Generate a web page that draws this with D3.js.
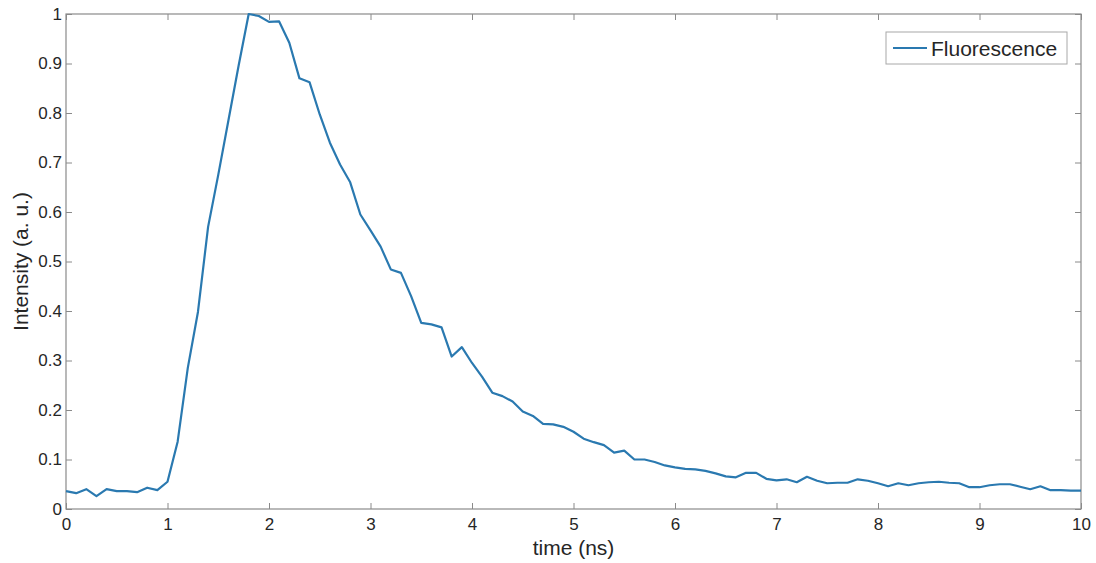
<!DOCTYPE html>
<html>
<head>
<meta charset="utf-8">
<script src="https://cdn.jsdelivr.net/npm/d3@7"></script>
<style>
  body { margin: 0; background: #fff; }
  text { font-family: "Liberation Sans", Arial, sans-serif; }
</style>
</head>
<body>
<div id="chart"></div>
<script>
// time axis in ns, sampled every 0.1 ns
const times = d3.range(0, 101).map(i => i / 10);

// normalised fluorescence intensity
const intensity = [
  0.036, 0.032, 0.040, 0.026, 0.040, 0.036, 0.036, 0.034, 0.043, 0.038,
  0.055, 0.136, 0.285, 0.398, 0.570, 0.675, 0.785, 0.895, 1.000, 0.996,
  0.984, 0.985, 0.942, 0.870, 0.862, 0.797, 0.740, 0.696, 0.660, 0.595,
  0.563, 0.530, 0.484, 0.477, 0.430, 0.376, 0.373, 0.367, 0.308, 0.327,
  0.295, 0.267, 0.235, 0.228, 0.217, 0.197, 0.188, 0.172, 0.171, 0.166,
  0.156, 0.142, 0.135, 0.129, 0.114, 0.118, 0.100, 0.100, 0.095, 0.088,
  0.084, 0.081, 0.080, 0.077, 0.072, 0.066, 0.064, 0.073, 0.073, 0.061,
  0.058, 0.060, 0.054, 0.065, 0.057, 0.052, 0.053, 0.053, 0.060, 0.057,
  0.052, 0.046, 0.052, 0.048, 0.052, 0.054, 0.055, 0.053, 0.052, 0.044,
  0.044, 0.048, 0.050, 0.050, 0.045, 0.040, 0.046, 0.038, 0.038, 0.037,
  0.037
];

const xTicks = d3.range(0, 11);
const yTicks = d3.range(0, 11).map(i => i / 10);
const seriesName = "Fluorescence";

const width = 1096, height = 563;
const margin = { top: 14, right: 15, bottom: 54, left: 66 };
const innerW = width - margin.left - margin.right;
const innerH = height - margin.top - margin.bottom;

const svg = d3.select("#chart").append("svg")
  .attr("width", width)
  .attr("height", height);

const g = svg.append("g")
  .attr("transform", `translate(${margin.left},${margin.top})`);

const x = d3.scaleLinear().domain([0, 10]).range([0, innerW]);
const y = d3.scaleLinear().domain([0, 1]).range([innerH, 0]);

const axisColor = "#8a8a8a";
const labelColor = "#262626";

// bottom / left axes with inward ticks
const xAxis = g.append("g")
  .attr("transform", `translate(0,${innerH})`)
  .call(d3.axisBottom(x).tickValues(xTicks).tickFormat(d3.format("d")).tickSizeInner(-6).tickSizeOuter(0).tickPadding(9));

const yAxis = g.append("g")
  .call(d3.axisLeft(y).tickValues(yTicks).tickFormat(d => d === 0 ? "0" : d === 1 ? "1" : d3.format(".1f")(d)).tickSizeInner(-6).tickSizeOuter(0).tickPadding(4));

// mirrored ticks on top and right
const xTop = g.append("g")
  .call(d3.axisTop(x).tickValues(xTicks).tickFormat("").tickSizeInner(-6).tickSizeOuter(0));
const yRight = g.append("g")
  .attr("transform", `translate(${innerW},0)`)
  .call(d3.axisRight(y).tickValues(yTicks).tickFormat("").tickSizeInner(-6).tickSizeOuter(0));

[xAxis, yAxis, xTop, yRight].forEach(a => {
  a.select(".domain").remove();
  a.selectAll("line").attr("stroke", axisColor);
  a.selectAll("text")
    .attr("fill", labelColor)
    .style("font-size", "17px");
});
xAxis.selectAll("text").attr("dy", "0.71em");

// frame
g.append("rect")
  .attr("width", innerW)
  .attr("height", innerH)
  .attr("fill", "none")
  .attr("stroke", axisColor)
  .attr("stroke-width", 1.2);

// data line
const line = d3.line()
  .x((d, i) => x(times[i]))
  .y(d => y(d));

g.append("path")
  .datum(intensity)
  .attr("fill", "none")
  .attr("stroke", "#2a79b0")
  .attr("stroke-width", 2.2)
  .attr("stroke-linejoin", "round")
  .attr("d", line);

// axis titles
svg.append("text")
  .attr("x", margin.left + innerW / 2)
  .attr("y", 555)
  .attr("text-anchor", "middle")
  .attr("fill", labelColor)
  .style("font-size", "21px")
  .text("time (ns)");

svg.append("text")
  .attr("transform", `translate(28,${margin.top + innerH / 2}) rotate(-90)`)
  .attr("text-anchor", "middle")
  .attr("fill", labelColor)
  .style("font-size", "21px")
  .text("Intensity (a. u.)");

// legend
const legend = svg.append("g").attr("transform", "translate(886,32)");
legend.append("rect")
  .attr("width", 181)
  .attr("height", 32)
  .attr("fill", "#fff")
  .attr("stroke", "#a8a8a8")
  .attr("stroke-width", 1);
legend.append("line")
  .attr("x1", 7).attr("x2", 41)
  .attr("y1", 16).attr("y2", 16)
  .attr("stroke", "#2a79b0")
  .attr("stroke-width", 2);
legend.append("text")
  .attr("x", 45)
  .attr("y", 24)
  .attr("fill", labelColor)
  .style("font-size", "21px")
  .text(seriesName);
</script>
</body>
</html>
